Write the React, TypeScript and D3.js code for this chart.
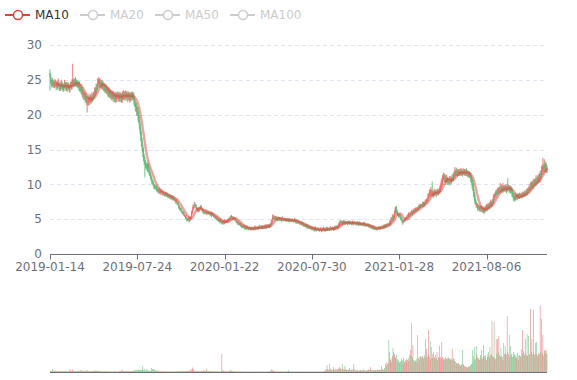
import React from 'react';
import * as d3 from 'd3';

// ---------- data (prices in tenths of a unit) ----------
const tickLabels = ['2019-01-14', '2019-07-24', '2020-01-22', '2020-07-30', '2021-01-28', '2021-08-06'];
const labelEvery = 127;
const legendNames = ['MA10', 'MA20', 'MA50', 'MA100'];
const yTicks = [0, 5, 10, 15, 20, 25, 30];

const closes = [
  255,249,244,248,243,247,241,246,243,240,
  245,240,246,241,237,243,239,245,240,236,
  241,245,239,244,237,243,238,242,236,241,
  244,240,246,249,243,248,244,250,245,242,
  246,240,244,237,240,234,236,229,232,226,
  229,222,226,219,223,217,221,224,219,225,
  221,227,223,230,227,234,231,239,236,245,
  243,250,244,247,241,246,240,244,238,241,
  235,239,233,237,230,235,228,233,227,231,
  225,230,224,228,223,229,222,227,230,224,
  228,223,229,224,221,228,231,225,230,226,
  231,225,229,224,230,226,222,229,225,230,
  225,229,221,218,212,214,205,207,199,195,
  186,178,170,162,154,147,140,134,130,128,
  126,124,127,122,118,115,112,108,105,103,
  100,98,96,95,96,93,91,90,92,89,
  88,90,89,87,88,86,87,85,86,84,
  85,83,84,82,83,81,82,80,81,79,
  80,77,78,75,76,72,72,68,68,64,
  64,61,61,58,59,55,56,52,53,49,
  50,48,52,48,51,52,58,61,67,67,
  71,69,69,65,65,62,63,63,66,66,
  67,63,63,59,62,59,60,59,59,58,
  60,58,59,56,59,55,58,55,56,53,
  54,51,52,49,51,48,49,46,48,45,
  47,44,47,44,47,46,47,47,48,47,
  50,49,52,51,54,51,52,51,52,49,
  50,46,47,44,45,42,44,41,42,39,
  41,38,40,37,39,36,38,37,38,35,
  37,36,37,35,38,36,37,36,39,36,
  38,37,38,37,39,38,39,37,40,37,
  40,38,39,38,41,38,41,39,42,39,
  42,41,46,48,53,52,53,50,53,50,
  52,49,52,49,52,49,51,48,51,49,
  50,48,50,48,49,48,50,47,50,47,
  49,48,49,47,48,47,49,46,48,45,
  47,45,46,44,45,43,44,42,43,41,
  42,40,41,39,40,38,39,37,39,36,
  38,36,37,35,37,34,37,34,36,35,
  36,34,35,34,36,33,36,34,37,34,
  36,34,37,34,37,35,36,35,37,36,
  37,36,38,35,38,37,39,38,39,39,
  42,42,46,45,46,43,46,45,46,44,
  45,44,46,43,46,44,45,44,45,43,
  46,43,45,44,45,43,44,43,45,42,
  45,42,44,42,43,42,44,41,43,41,
  42,41,42,40,41,39,40,38,39,37,
  39,36,38,36,37,36,37,36,38,37,
  38,37,39,38,39,38,41,39,41,40,
  42,41,43,42,45,45,49,49,53,50,
  54,58,62,66,62,58,57,55,56,54,
  52,50,48,46,47,48,49,51,52,53,
  55,53,58,55,59,57,61,58,62,60,
  64,61,65,63,66,64,68,66,70,68,
  71,68,73,70,74,71,76,74,78,77,
  83,84,89,85,91,87,86,89,85,90,
  87,89,86,90,88,91,89,94,95,101,
  103,108,109,113,108,110,104,109,103,106,
  103,108,103,107,105,110,108,113,112,117,
  115,120,116,118,115,119,115,118,116,119,
  115,118,116,119,115,118,115,117,113,116,
  112,114,108,107,100,97,89,85,77,75,
  70,71,66,69,65,67,64,67,63,65,
  62,65,61,66,64,69,65,70,67,72,
  69,74,70,75,74,81,80,85,84,89,
  87,91,90,93,91,94,92,96,92,97,
  92,95,93,96,91,97,94,96,91,95,
  90,94,87,86,80,83,78,83,80,84,
  80,85,82,84,82,85,83,86,84,87,
  85,88,86,90,88,92,91,95,94,99,
  96,101,98,103,100,104,102,107,103,108,
  106,110,108,114,112,120,121,124,123,129,
  122,127,121,123,
];

// close minus open, in tenths
const bodies = [
  -4,-5,-3,4,-5,3,-5,4,-3,-4,
  4,-5,5,-4,-4,5,-3,5,-4,-5,
  4,3,-5,4,-6,5,-4,3,-5,4,
  3,-4,5,3,-5,4,-3,5,-4,-3,
  3,-5,3,-6,2,-5,2,-6,3,-5,
  2,-6,4,-6,3,-5,3,3,-4,5,
  -3,5,-3,6,-2,6,-3,7,-2,7,
  -2,6,-5,3,-5,4,-5,3,-5,3,
  -5,3,-5,3,-6,4,-6,4,-5,3,
  -5,4,-5,3,-4,5,-6,4,3,-5,
  3,-4,5,-4,-3,6,3,-5,4,-3,
  4,-5,3,-4,5,-3,-4,6,-3,4,
  -4,3,-6,-3,-5,2,-7,2,-6,-4,
  -7,-8,-8,-8,-8,-7,-7,-6,-4,-2,
  -2,-2,3,-5,-4,-3,-3,-4,-3,-2,
  -3,-2,-2,-1,1,-3,-2,-1,2,-3,
  -1,2,-1,-2,1,-2,1,-2,1,-2,
  1,-2,1,-2,1,-2,1,-2,1,-2,
  1,-2,1,-2,1,-2,-1,-2,1,-2,
  -1,-2,1,-2,1,-2,1,-2,1,-2,
  1,-1,2,-2,2,1,3,2,4,1,
  2,-1,-1,-2,1,-2,1,1,2,-1,
  1,-2,1,-2,2,-1,1,-1,1,-1,
  1,-1,1,-2,2,-2,2,-2,1,-2,
  1,-2,1,-2,1,-2,1,-2,1,-2,
  1,-2,2,-2,2,-1,1,1,1,-1,
  2,-1,2,-1,2,-2,1,-1,1,-2,
  1,-2,1,-2,1,-2,1,-2,1,-2,
  1,-2,1,-2,1,-2,1,-1,1,-2,
  1,-1,1,-2,2,-1,1,-1,2,-2,
  1,-1,1,-1,2,-1,1,-2,2,-2,
  2,-1,1,-1,2,-2,2,-1,2,-2,
  2,-1,3,2,4,-1,1,-2,2,-2,
  1,-2,2,-2,2,-2,1,-2,2,-1,
  1,-2,1,-2,1,-1,1,-2,2,-2,
  1,-1,1,-2,1,-1,1,-2,1,-2,
  1,-2,1,-2,1,-2,1,-2,1,-2,
  1,-2,1,-2,1,-2,1,-2,1,-2,
  1,-2,1,-2,1,-2,2,-2,1,-1,
  1,-2,1,-1,1,-2,2,-1,2,-2,
  1,-2,2,-2,2,-1,1,-1,1,-1,
  1,-1,2,-2,2,-1,2,-1,1,1,
  2,1,3,-1,1,-2,2,-1,1,-2,
  1,-1,2,-2,2,-2,1,-1,1,-2,
  2,-2,1,-1,1,-2,1,-1,2,-2,
  2,-2,1,-1,1,-1,1,-2,1,-2,
  1,-1,1,-2,1,-2,1,-2,1,-2,
  1,-2,1,-1,1,-1,1,-1,1,-1,
  1,-1,1,-1,1,-1,2,-2,2,-1,
  1,-1,1,-1,2,1,3,1,3,-2,
  3,4,4,4,-4,-4,-1,-2,1,-2,
  -2,-2,-2,-2,1,1,1,2,1,1,
  2,-2,3,-2,3,-2,3,-2,3,-2,
  3,-2,3,-2,2,-2,3,-2,3,-2,
  2,-2,3,-2,3,-2,3,-2,3,-1,
  4,2,4,-3,5,-3,-2,3,-3,4,
  -3,2,-3,3,-2,3,-2,4,2,5,
  2,4,2,3,-4,2,-5,4,-5,2,
  -2,4,-4,3,-2,4,-2,4,-1,4,
  -2,4,-3,2,-3,3,-3,2,-2,3,
  -3,2,-2,2,-3,2,-3,2,-3,2,
  -3,1,-5,-1,-6,-3,-7,-4,-7,-2,
  -4,1,-4,2,-3,2,-3,2,-3,2,
  -2,3,-3,4,-2,4,-3,4,-2,4,
  -3,4,-3,4,-1,6,-1,4,-1,4,
  -2,3,-1,3,-2,3,-2,4,-3,4,
  -4,2,-2,3,-4,5,-2,2,-4,3,
  -4,3,-5,-1,-5,2,-4,4,-2,3,
  -3,4,-2,2,-2,2,-2,3,-2,3,
  -2,3,-2,3,-2,3,-1,3,-1,4,
  -3,4,-3,4,-3,3,-2,4,-3,4,
  -2,3,-2,5,-2,6,1,3,-1,5,
  -6,4,-5,2,
];

// wick above the body, in tenths
const upperWicks = [
  6,4,3,5,4,2,3,5,4,3,
  4,3,6,2,3,5,2,5,3,4,
  3,5,4,2,4,3,5,3,4,2,
  4,3,5,24,4,3,5,4,2,4,
  3,4,2,5,3,4,3,5,4,3,
  4,3,5,2,4,3,4,6,3,4,
  3,5,4,3,4,5,4,5,6,7,
  5,4,3,5,4,3,4,5,3,4,
  4,3,5,4,3,4,5,3,4,3,
  5,4,3,6,4,3,5,4,3,4,
  3,5,4,3,6,4,3,5,4,3,
  4,3,5,4,3,4,5,3,4,3,
  4,3,5,4,4,3,5,4,6,5,
  6,5,4,6,5,4,5,4,5,4,
  4,3,4,3,3,2,3,2,3,2,
  3,2,2,3,2,2,3,2,2,3,
  2,3,2,1,3,2,2,1,3,2,
  2,3,1,2,3,2,1,2,3,2,
  2,3,2,1,3,2,2,3,2,1,
  2,3,1,2,2,3,1,2,3,2,
  2,1,3,2,2,3,4,3,4,3,
  4,3,2,3,2,2,3,2,2,3,
  3,2,2,3,2,1,2,3,2,2,
  2,3,1,2,3,2,2,3,1,2,
  2,1,2,3,1,2,2,1,3,2,
  1,2,2,1,3,2,1,2,2,3,
  2,1,2,3,2,1,2,2,1,2,
  2,1,2,2,1,3,1,2,2,1,
  1,2,2,1,2,1,3,2,1,2,
  2,1,2,2,1,2,1,3,2,1,
  2,1,2,1,2,3,1,2,1,2,
  1,2,3,1,2,1,2,2,1,2,
  2,2,3,3,4,3,2,2,2,2,
  2,1,2,2,1,2,2,1,3,2,
  1,2,2,1,2,3,1,2,2,1,
  2,2,1,2,1,2,3,1,2,1,
  2,1,2,1,2,1,2,3,1,2,
  1,2,1,2,1,3,1,2,1,2,
  2,1,2,1,2,1,3,1,2,2,
  1,2,1,2,3,1,2,1,2,1,
  2,1,2,3,1,2,1,2,3,1,
  2,2,1,2,2,3,1,2,2,3,
  3,4,3,2,2,2,2,3,2,2,
  2,2,1,2,2,1,3,2,1,2,
  2,1,2,2,1,2,1,3,2,1,
  2,2,1,2,1,2,2,1,3,1,
  1,2,1,2,1,2,1,2,1,2,
  2,1,2,1,2,1,2,1,2,2,
  1,2,2,1,2,2,2,1,2,2,
  2,2,1,2,3,3,4,3,4,3,
  3,4,5,2,3,2,2,1,2,1,
  2,1,1,1,2,1,1,2,1,2,
  2,1,2,1,2,1,2,1,2,2,
  2,1,2,2,1,2,2,1,2,2,
  1,2,2,3,1,2,2,3,2,3,
  4,3,4,2,5,3,16,3,2,4,
  2,3,2,3,4,2,3,4,5,5,
  6,5,7,4,3,4,3,5,3,4,
  3,4,2,5,3,4,5,4,6,8,
  4,3,5,3,4,3,4,5,3,4,
  3,5,4,3,4,3,5,3,4,3,
  4,3,4,5,4,5,6,5,4,3,
  3,2,3,2,3,2,3,2,3,2,
  2,3,2,3,4,3,2,3,3,2,
  3,4,2,3,4,5,4,3,5,4,
  3,4,5,3,4,8,3,4,3,5,
  3,4,3,4,3,4,13,3,4,3,
  4,3,4,5,3,4,3,4,3,2,
  3,2,3,4,2,3,2,3,4,2,
  3,4,2,3,4,3,4,5,3,4,
  5,3,4,5,3,4,5,6,4,5,
  4,5,6,5,6,7,6,14,5,7,
  6,4,5,4,
];

// wick below the body, in tenths
const lowerWicks = [
  20,4,5,3,4,5,3,4,3,5,
  3,4,2,5,3,4,5,3,4,3,
  4,3,5,4,3,5,4,3,4,5,
  3,4,5,3,4,4,3,5,4,3,
  4,5,3,4,5,4,5,4,6,5,
  4,5,4,5,17,4,5,4,5,4,
  5,4,5,3,4,3,4,3,4,3,
  4,5,4,5,3,5,4,5,4,5,
  4,5,3,5,4,5,4,5,4,6,
  5,4,6,4,5,7,4,5,4,6,
  5,4,6,5,4,5,6,4,5,6,
  4,5,4,6,5,4,5,4,6,5,
  4,6,7,6,7,8,6,7,8,7,
  7,6,8,7,6,8,7,6,20,5,
  5,4,6,5,4,3,4,3,4,3,
  3,4,3,2,3,3,2,3,2,3,
  2,3,2,2,3,2,2,3,2,2,
  2,2,3,2,2,3,2,2,3,2,
  2,1,2,3,1,2,2,3,2,2,
  2,1,2,1,2,1,2,1,2,2,
  1,2,1,2,1,1,2,1,2,2,
  2,3,2,3,2,2,2,1,2,2,
  2,2,1,2,1,2,1,2,2,1,
  1,2,1,2,1,2,1,1,2,1,
  2,1,2,1,2,2,1,2,1,2,
  1,2,1,2,2,1,2,1,2,1,
  2,1,2,2,1,2,2,1,2,2,
  1,2,1,2,2,1,2,2,1,2,
  2,1,2,2,1,2,1,2,2,1,
  1,2,2,1,2,1,2,2,1,2,
  2,1,2,2,1,2,2,1,2,1,
  2,2,1,2,1,2,2,1,2,2,
  2,2,2,3,2,3,2,2,2,2,
  2,2,1,2,2,2,1,2,2,1,
  2,1,2,2,1,2,2,1,2,2,
  1,2,2,1,2,1,2,2,1,2,
  2,2,1,2,2,1,2,1,2,2,
  2,1,2,2,1,2,2,1,2,1,
  2,2,1,2,1,2,1,2,2,1,
  2,1,2,1,2,2,1,2,1,2,
  1,2,2,1,2,1,2,2,1,2,
  2,1,2,2,1,2,2,1,2,2,
  2,2,3,2,3,2,2,2,3,2,
  2,1,2,2,1,2,2,1,2,2,
  1,2,2,1,2,2,1,2,1,2,
  2,1,2,2,1,2,1,2,2,1,
  2,2,1,2,2,1,2,2,1,2,
  2,1,2,2,1,2,2,1,2,1,
  2,2,1,2,2,1,2,2,1,2,
  2,1,2,2,2,2,3,2,3,3,
  2,2,3,3,4,3,2,3,2,3,
  3,2,3,4,2,2,1,2,2,1,
  2,1,2,2,1,2,1,2,1,2,
  2,2,1,2,2,1,2,2,1,2,
  2,1,2,2,3,2,2,1,2,2,
  3,2,3,4,3,4,3,3,4,3,
  4,3,4,3,3,4,3,3,4,3,
  4,5,4,3,5,4,5,3,4,3,
  4,3,5,3,4,3,3,4,3,4,
  3,4,3,5,3,4,3,3,4,3,
  4,3,3,4,3,4,3,4,3,4,
  3,4,5,5,6,6,7,6,5,4,
  4,3,4,3,3,4,3,4,3,3,
  3,4,3,2,3,3,4,2,3,3,
  3,2,3,3,4,3,3,4,3,4,
  4,3,4,4,3,4,3,4,4,3,
  4,3,4,3,4,3,4,3,4,3,
  3,4,5,4,4,3,3,2,3,2,
  3,2,3,3,2,3,2,3,3,2,
  3,2,3,3,4,3,3,4,3,4,
  4,3,4,5,4,3,4,5,4,3,
  5,4,5,6,5,4,6,7,5,6,
  5,6,4,5,
];

// traded volume (arbitrary units)
const volumes = [
  8,12,10,15,30,12,8,10,14,9,
  7,9,12,8,10,6,9,11,8,7,
  6,8,10,12,9,7,8,6,10,30,
  14,10,12,25,12,9,8,10,7,9,
  10,12,15,11,14,18,16,12,10,9,
  11,13,10,12,20,10,9,12,8,10,
  9,8,10,12,14,11,13,15,12,10,
  14,12,9,8,10,7,9,8,6,8,
  7,9,6,8,7,6,8,5,7,6,
  6,5,7,6,8,5,6,7,5,6,
  8,10,12,9,15,18,12,10,8,11,
  9,12,10,8,12,9,7,10,8,9,
  10,12,15,14,18,16,20,15,18,22,
  20,25,18,16,22,60,20,15,30,12,
  14,30,18,12,15,10,12,14,40,28,
  25,30,20,18,15,12,14,10,12,9,
  8,10,7,9,6,8,7,5,8,6,
  7,6,8,5,7,6,5,7,6,5,
  6,5,7,6,8,7,9,8,10,9,
  8,10,12,9,11,8,10,9,12,10,
  9,10,12,14,12,15,25,45,30,18,
  15,12,10,8,12,9,10,8,7,9,
  8,12,10,14,20,12,10,9,30,12,
  10,8,9,7,10,8,6,9,7,8,
  7,6,8,5,7,6,8,5,6,10,
  180,20,12,10,8,9,7,8,6,7,
  10,12,15,18,12,10,8,9,7,8,
  6,8,5,7,6,5,7,6,8,5,
  5,6,4,5,6,4,5,4,6,5,
  4,5,6,4,5,4,6,5,4,5,
  5,4,6,5,4,5,4,6,5,4,
  5,6,4,5,6,5,4,6,5,7,
  8,12,25,20,15,12,10,9,8,7,
  8,6,7,5,6,8,5,6,7,5,
  6,5,7,6,5,8,6,20,7,5,
  5,6,4,5,6,5,4,6,5,4,
  5,4,6,5,4,6,5,4,5,6,
  5,4,6,5,4,5,6,4,5,4,
  4,5,6,4,5,4,6,5,4,5,
  5,6,4,5,6,5,4,6,5,8,
  15,25,18,70,30,20,25,80,35,20,
  18,25,50,30,22,18,35,25,20,30,
  35,50,40,30,25,80,35,28,22,60,
  30,25,20,18,22,25,40,20,18,25,
  22,30,80,25,20,18,15,20,12,15,
  12,18,20,15,12,20,25,18,15,12,
  15,20,18,25,22,20,50,25,18,20,
  15,18,22,20,15,18,25,20,18,22,
  25,20,60,30,25,22,28,40,80,60,
  100,80,90,320,200,120,140,100,160,240,
  200,180,150,140,170,130,110,120,100,90,
  110,130,100,120,140,110,90,120,100,130,
  120,140,110,170,220,160,490,150,270,120,
  100,120,110,130,100,370,140,120,150,160,
  140,150,160,130,150,170,330,140,230,150,
  170,420,150,310,130,250,140,180,200,150,
  130,170,140,200,120,150,140,260,150,130,
  300,150,120,140,130,150,120,140,130,150,
  140,130,140,120,130,230,120,140,130,110,
  100,90,90,80,90,80,70,60,80,70,
  220,80,70,60,50,60,50,40,50,60,
  50,60,70,80,90,220,160,120,250,130,
  260,180,150,130,140,120,170,150,220,130,
  150,270,160,170,140,120,150,180,200,150,
  250,170,180,510,160,150,500,140,130,330,
  180,330,200,360,170,150,240,160,150,120,
  290,180,260,190,170,560,200,180,370,150,
  260,180,170,150,200,160,180,150,170,140,
  190,120,160,170,160,150,230,420,180,210,
  170,190,330,170,380,160,360,180,170,630,
  200,330,180,620,190,170,290,180,300,170,
  150,190,180,660,200,530,180,370,160,220,
  190,220,210,180,
];

// ---------- styles ----------
const UP = '#eb5454';
const DOWN = '#47b262';
const MA_COLOR = '#d9463b';
const AXIS = '#6E7079';
const FONT = '"DejaVu Sans", sans-serif';

export default function App() {
  const W = 577;
  const H = 380;
  const n = closes.length;
  const left = 50;
  const right = 547;

  const x = d3.scaleLinear().domain([0, n - 1]).range([left, right]);
  const y = d3.scaleLinear().domain([0, 30]).range([254, 45]);
  const yVol = d3.scaleLinear().domain([0, 700]).range([372, 302]);
  const step = (right - left) / (n - 1);
  const bodyW = step * 0.6;
  const volW = step * 0.7;

  const candles = d3.range(n).map((i) => {
    const c = closes[i] / 10;
    const o = (closes[i] - bodies[i]) / 10;
    const top = Math.max(o, c);
    const bot = Math.min(o, c);
    const h = top + upperWicks[i] / 10;
    const l = bot - lowerWicks[i] / 10;
    let up = c > o;
    if (c === o) up = i > 0 ? closes[i] >= closes[i - 1] : true;
    return { i, o, c, h, l, top, bot, up, v: volumes[i] };
  });

  const ma10: (number | null)[] = d3.range(n).map((i) => {
    if (i < 9) return null;
    return (d3.mean(closes.slice(i - 9, i + 1)) as number) / 10;
  });

  const maLine =
    d3
      .line<number | null>()
      .defined((d) => d != null)
      .x((_, i) => x(i))
      .y((d) => y(d as number))
      .curve(d3.curveMonotoneX)(ma10) || '';

  const tickIdx = tickLabels.map((_, k) => k * labelEvery);

  return (
    <svg
      width={W}
      height={H}
      viewBox={`0 0 ${W} ${H}`}
      style={{ position: 'absolute', left: 0, top: 0, display: 'block', background: '#fff' }}
      fontFamily={FONT}
    >
      {/* legend */}
      {legendNames.map((name, k) => {
        const x0 = 5 + k * 75;
        const active = k === 0;
        const col = active ? MA_COLOR : '#ccc';
        return (
          <g key={name}>
            <line x1={x0} x2={x0 + 25} y1={15} y2={15} stroke={col} strokeWidth={2} />
            <circle cx={x0 + 13} cy={15} r={4.5} fill="#fff" stroke={col} strokeWidth={1.5} />
            <text x={x0 + 30} y={15} dy="0.35em" fontSize={12} fill={active ? '#333' : '#ccc'}>
              {name}
            </text>
          </g>
        );
      })}

      {/* split lines */}
      {yTicks
        .filter((t) => t > 0)
        .map((t) => (
          <line
            key={t}
            x1={left}
            x2={right}
            y1={Math.round(y(t)) + 0.5}
            y2={Math.round(y(t)) + 0.5}
            stroke="#E0E6F1"
            strokeDasharray="4 3"
          />
        ))}
      {/* y labels */}
      {yTicks.map((t) => (
        <text key={t} x={42} y={y(t)} dy="0.35em" textAnchor="end" fontSize={12} fill={AXIS}>
          {t}
        </text>
      ))}

      {/* candles */}
      <g opacity={0.85}>
        {candles.map((d) => {
          const cx = x(d.i);
          const col = d.up ? UP : DOWN;
          const yt = y(d.top);
          const hb = Math.max(y(d.bot) - yt, 0.3);
          return (
            <g key={d.i}>
              <path d={`M${cx},${y(d.h)}V${y(d.l)}`} stroke={col} strokeWidth={0.9} />
              <rect x={cx - bodyW / 2} y={yt} width={bodyW} height={hb} fill={col} stroke={col} strokeWidth={0.7} />
            </g>
          );
        })}
      </g>

      {/* MA10 */}
      <path d={maLine} fill="none" stroke={MA_COLOR} strokeWidth={2.4} strokeOpacity={0.5} />

      {/* x axis */}
      <line x1={left} x2={right} y1={254.5} y2={254.5} stroke={AXIS} />
      {tickIdx.map((ti, k) => (
        <g key={ti}>
          <line x1={Math.round(x(ti)) + 0.5} x2={Math.round(x(ti)) + 0.5} y1={254.5} y2={259.5} stroke={AXIS} />
          <text x={x(ti)} y={271} textAnchor="middle" fontSize={12} fill={AXIS}>
            {tickLabels[k]}
          </text>
        </g>
      ))}

      {/* volume */}
      <g opacity={0.9}>
        {candles.map((d) => (
          <rect
            key={d.i}
            x={x(d.i) - volW / 2}
            y={yVol(d.v)}
            width={volW}
            height={yVol(0) - yVol(d.v)}
            fill={d.up ? UP : DOWN}
          />
        ))}
      </g>
      <line x1={left} x2={right} y1={372.5} y2={372.5} stroke={AXIS} />
    </svg>
  );
}
